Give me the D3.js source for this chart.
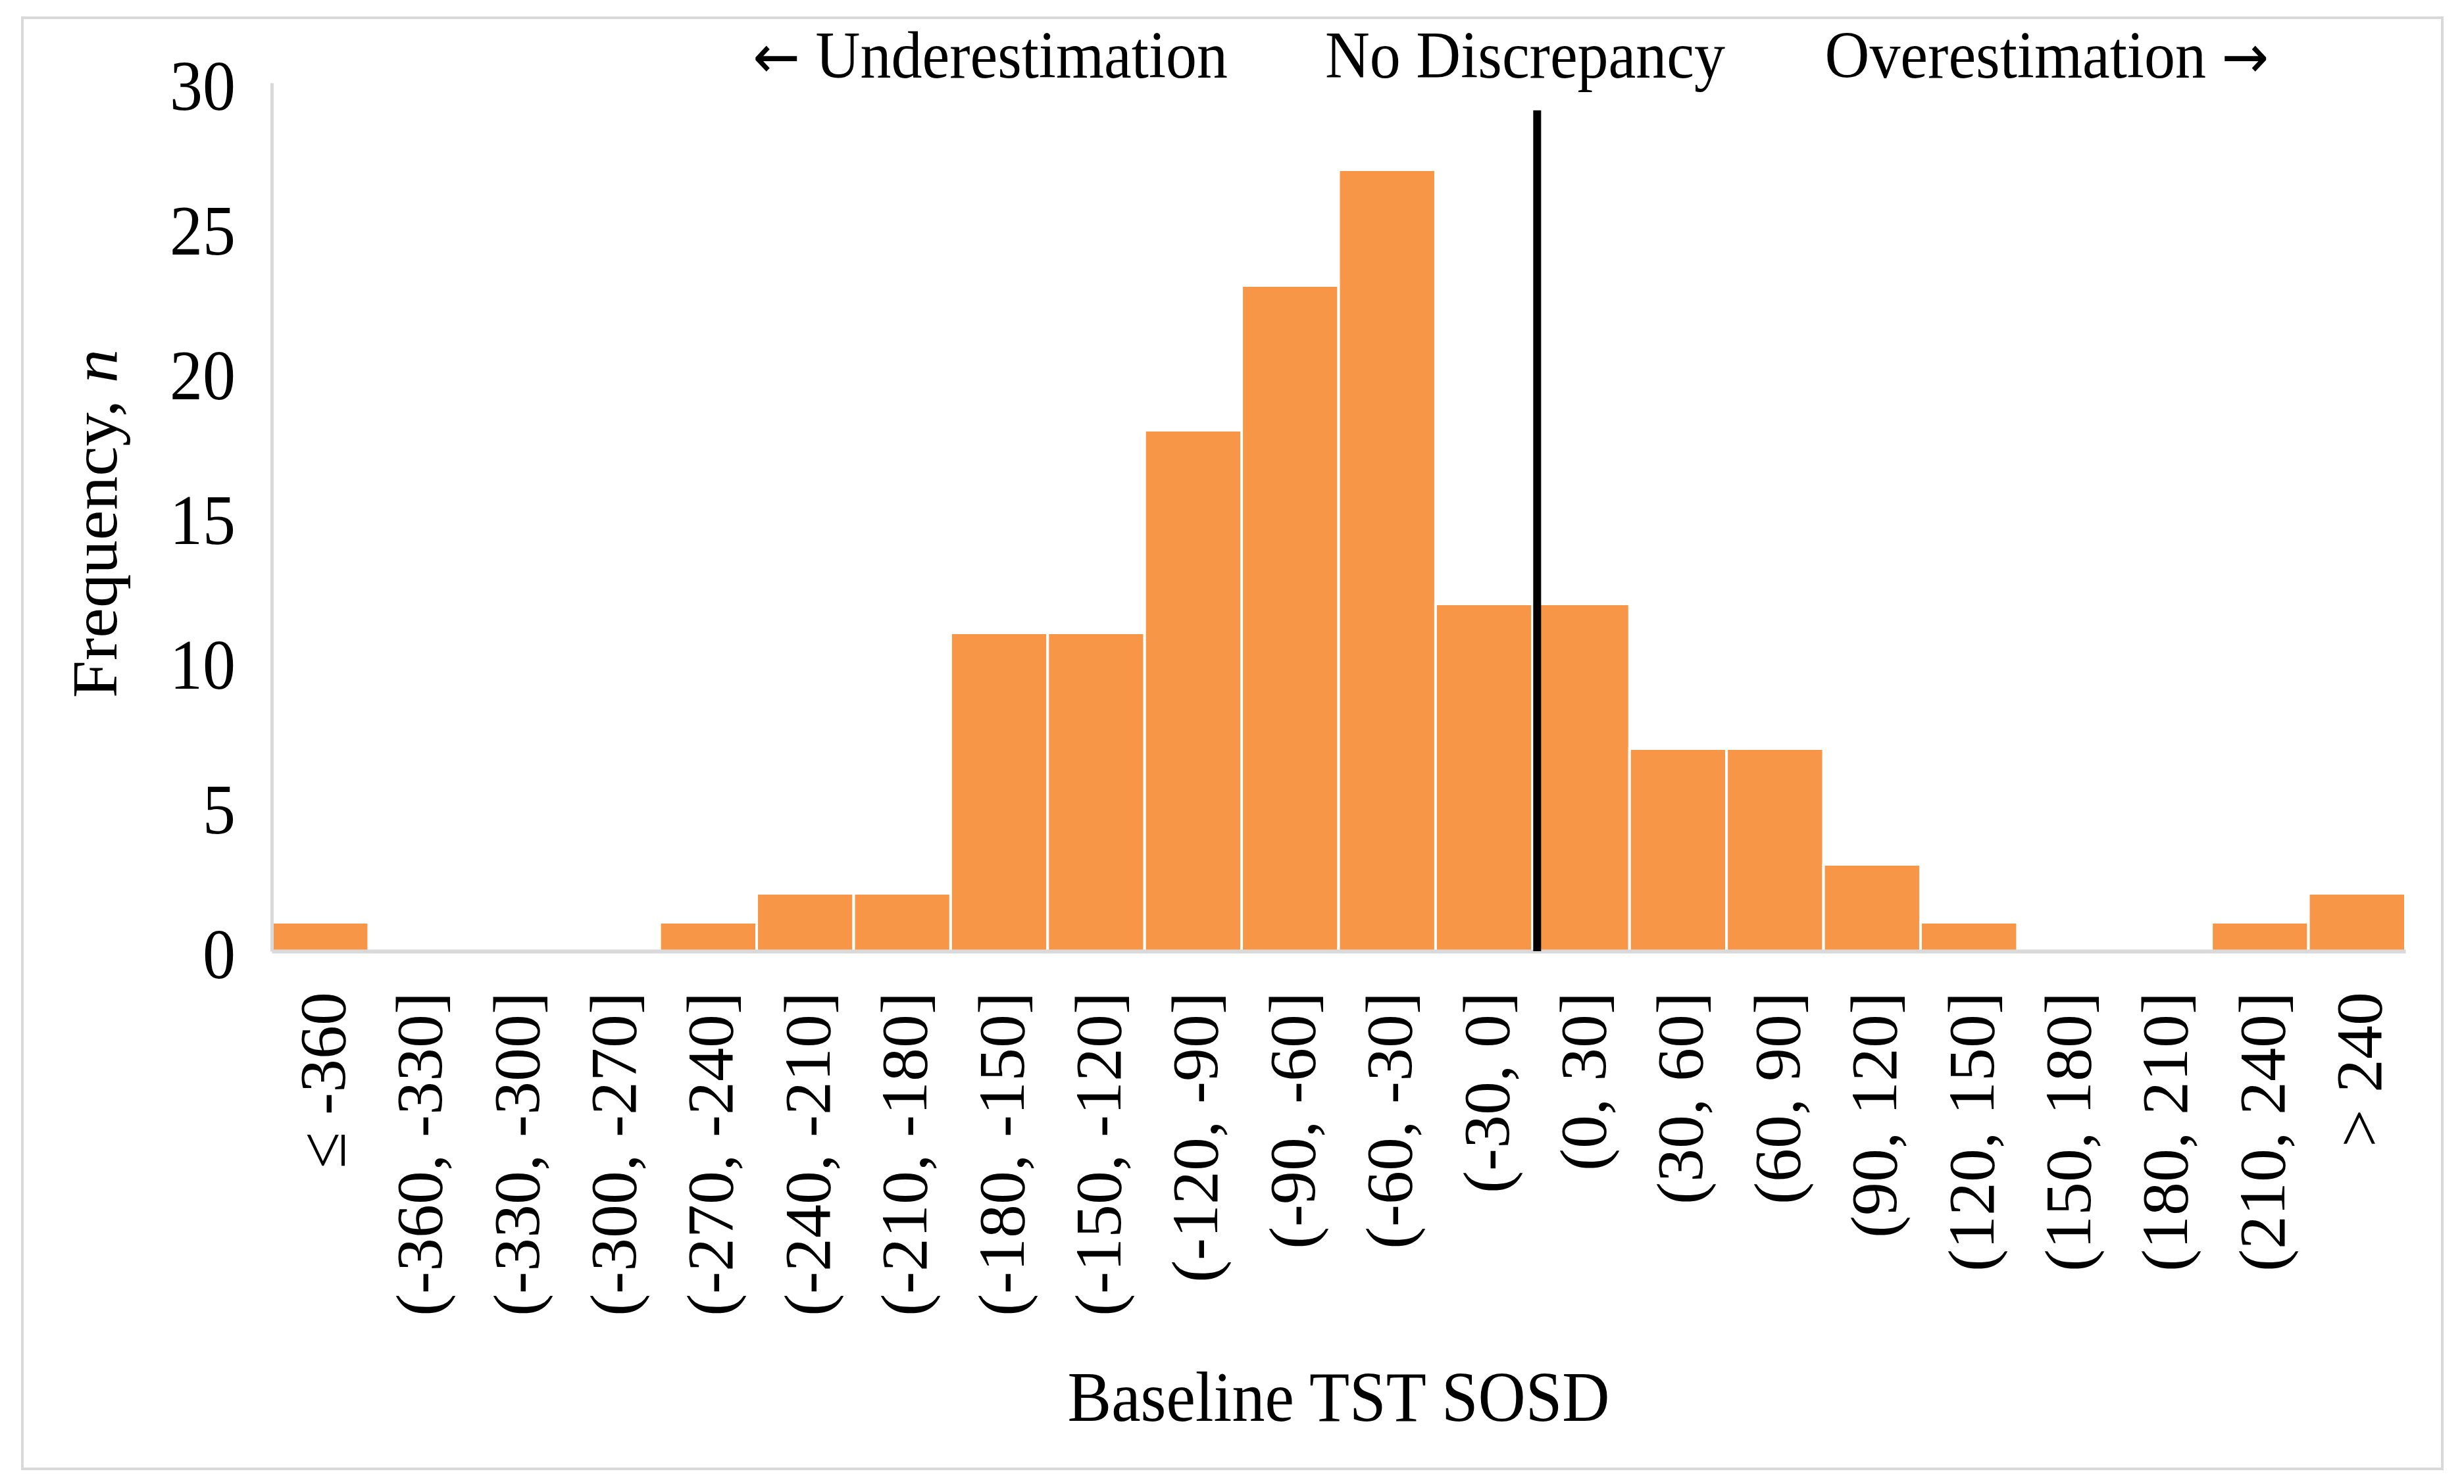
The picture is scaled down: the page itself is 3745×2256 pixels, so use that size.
<!DOCTYPE html>
<html>
<head>
<meta charset="utf-8">
<script src="https://cdn.jsdelivr.net/npm/d3@7"></script>
<style>
  body { margin: 0; background: #fff; }
  svg { display: block; }
  text { font-family: "Liberation Serif", "Times New Roman", serif; fill: #000; }
</style>
</head>
<body>
<svg width="3745" height="2256"></svg>
<script>
// bins of the baseline TST SOSD (minutes)
var categories = ["≤ -360", "(-360, -330]", "(-330, -300]", "(-300, -270]", "(-270, -240]",
    "(-240, -210]", "(-210, -180]", "(-180, -150]", "(-150, -120]", "(-120, -90]",
    "(-90, -60]", "(-60, -30]", "(-30, 0]", "(0, 30]", "(30, 60]", "(60, 90]",
    "(90, 120]", "(120, 150]", "(150, 180]", "(180, 210]", "(210, 240]", "> 240"];
var counts = [1, 0, 0, 0, 1, 2, 2, 11, 11, 18, 23, 27, 12, 12, 7, 7, 3, 1, 0, 0, 1, 2];
var yTicks = [0, 5, 10, 15, 20, 25, 30];
// [arrow before, label, arrow after]
var notes = [["←", " Underestimation", ""], ["", "No Discrepancy", ""], ["", "Overestimation ", "→"]];
var zeroBin = "(0, 30]";   // marker line sits at the start of this bin
var zeroLineTop = 29.05;

var svg = d3.select("svg"),
    plotLeft = 413, plotRight = 3656, plotTop = 126, plotBottom = 1446,
    stretch = 1.07;   // text in the original is a bit taller than wide

// frame
svg.append("rect")
    .attr("x", 34).attr("y", 27)
    .attr("width", 3678).attr("height", 2206)
    .attr("fill", "#fff")
    .attr("stroke", "#d9d9d9")
    .attr("stroke-width", 4);

var x = d3.scaleBand()
    .domain(categories)
    .range([plotLeft, plotRight])
    .padding(0);

var y = d3.scaleLinear()
    .domain([0, 30])
    .range([plotBottom, plotTop]);

// bars
svg.append("g")
  .selectAll("rect")
  .data(counts)
  .enter().append("rect")
    .attr("x", function(d, i) { return x(categories[i]); })
    .attr("y", function(d) { return y(d); })
    .attr("width", x.bandwidth())
    .attr("height", function(d) { return y(0) - y(d); })
    .attr("fill", "#f79646")
    .attr("stroke", "#fff")
    .attr("stroke-width", 4);

// y axis
var yAxis = d3.axisLeft(y).tickValues(yTicks).tickSize(0).tickPadding(55);
var gy = svg.append("g")
    .attr("transform", "translate(" + plotLeft + ",0)")
    .call(yAxis);
gy.select(".domain").attr("stroke", "#d9d9d9").attr("stroke-width", 5);
gy.selectAll("text")
    .attr("font-size", 100)
    .attr("font-family", "Liberation Serif")
    .attr("dy", "0.38em")
    .attr("transform", "scale(1," + stretch + ")");

// x axis
var xAxis = d3.axisBottom(x).tickSize(0);
var gx = svg.append("g")
    .attr("transform", "translate(0," + plotBottom + ")")
    .call(xAxis);
gx.select(".domain").attr("stroke", "#d9d9d9").attr("stroke-width", 6);
gx.selectAll("text")
    .attr("font-size", 100)
    .attr("font-family", "Liberation Serif")
    .attr("x", 0).attr("y", 0)
    .attr("dy", "0.37em")
    .attr("text-anchor", "end")
    .attr("transform", "translate(0,62) rotate(-90) scale(1.02,1)");

// no-discrepancy marker
var zx = x(zeroBin) + 7;
svg.append("line")
    .attr("x1", zx).attr("x2", zx)
    .attr("y1", y(zeroLineTop)).attr("y2", y(0))
    .attr("stroke", "#000")
    .attr("stroke-width", 12);

// top notes
var noteX = [1505, 2318, 3111];
var nt = svg.append("g")
  .selectAll("text")
  .data(notes)
  .enter().append("text")
    .attr("text-anchor", "middle")
    .attr("font-size", 94)
    .attr("transform", function(d, i) { return "translate(" + noteX[i] + ",118) scale(1," + stretch + ")"; });
nt.append("tspan").attr("font-family", "DejaVu Sans").attr("font-size", 86)
    .text(function(d) { return d[0]; });
nt.append("tspan").text(function(d) { return d[1]; });
nt.append("tspan").attr("font-family", "DejaVu Sans").attr("font-size", 86)
    .text(function(d) { return d[2]; });

// axis titles
var yt = svg.append("text")
    .attr("text-anchor", "middle")
    .attr("font-size", 98)
    .attr("transform", "translate(177,796) rotate(-90) scale(1.05,1)");
yt.append("tspan").text("Frequency, ");
yt.append("tspan").attr("font-style", "italic").text("n");

svg.append("text")
    .attr("text-anchor", "middle")
    .attr("font-size", 100)
    .attr("transform", "translate(" + (plotLeft + plotRight) / 2 + ",2160) scale(1," + stretch + ")")
    .text("Baseline TST SOSD");
</script>
</body>
</html>
